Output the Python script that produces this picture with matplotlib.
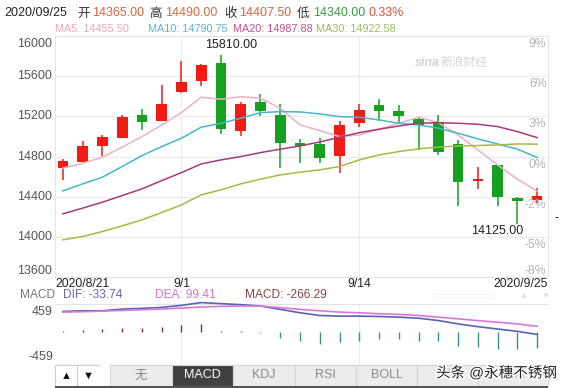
import numpy as np
import matplotlib
matplotlib.use('Agg')
from matplotlib import pyplot as plt
from matplotlib import patheffects
from matplotlib.patches import Rectangle
import matplotlib.transforms as mtransforms

plt.rcParams['font.family'] = ['Liberation Sans', 'Noto Sans CJK SC', 'DejaVu Sans']

# Daily K-line, 2020/8/24 .. 2020/9/25 (visible candles)
dates = ['8/24', '8/25', '8/26', '8/27', '8/28', '8/31', '9/1', '9/2', '9/3', '9/4',
         '9/7', '9/8', '9/9', '9/10', '9/11', '9/14', '9/15', '9/16', '9/17', '9/18',
         '9/21', '9/22', '9/23', '9/24', '9/25']
opens = [14684, 14749, 14908, 14988, 15211, 15157, 15446, 15555, 15734, 15058,
         15343, 15214, 14933, 14925, 14809, 15137, 15313, 15254, 15171, 15131,
         14925, 14554, 14716, 14388, 14365]
closes = [14759, 14905, 14995, 15194, 15147, 15323, 15542, 15714, 15078, 15323,
          15254, 14938, 14906, 14789, 15114, 15264, 15254, 15207, 15114, 14849,
          14550, 14577, 14401, 14360, 14407.5]
highs = [14773, 14955, 15018, 15211, 15271, 15512, 15754, 15726, 15810, 15340,
         15420, 15320, 14972, 14982, 15154, 15320, 15370, 15313, 15181, 15214,
         14965, 14693, 14720, 14401, 14490]
lows = [14567, 14745, 14809, 14985, 15065, 15150, 15430, 15502, 15022, 15008,
        15204, 14684, 14739, 14739, 14640, 15092, 15157, 15121, 14866, 14816,
        14308, 14478, 14311, 14125, 14340]

ma5 = [14684, 14733, 14793, 14893, 14998, 15114, 15237, 15390, 15370, 15396,
       15380, 15281, 15114, 15058, 14998, 15015, 15072, 15131, 15191, 15137,
       15015, 14866, 14716, 14574, 14455.5]
ma10 = [14458, 14527, 14594, 14700, 14809, 14899, 14982, 15092, 15131, 15181,
        15237, 15247, 15244, 15224, 15197, 15191, 15164, 15131, 15114, 15082,
        15032, 14975, 14925, 14873, 14790.75]
ma20 = [14229, 14286, 14345, 14411, 14478, 14560, 14640, 14726, 14766, 14799,
        14839, 14873, 14905, 14945, 14992, 15038, 15072, 15104, 15131, 15137,
        15131, 15121, 15098, 15048, 14987.88]
ma30 = [13970, 14003, 14053, 14109, 14169, 14242, 14318, 14418, 14468, 14527,
        14574, 14617, 14644, 14667, 14700, 14766, 14816, 14849, 14876, 14893,
        14905, 14909, 14915, 14925, 14922.58]

dif = [347, 358, 358, 386, 398, 414, 448, 493, 476, 459, 437, 381, 325, 280, 269,
       269, 263, 252, 235, 196, 140, 95, 56, 17, -33.74]
dea = [336, 342, 353, 364, 375, 386, 403, 420, 431, 437, 437, 409, 381, 358, 336,
       325, 308, 297, 280, 252, 224, 196, 168, 140, 99.41]
macd = [20, 35, 50, 75, 75, 90, 115, 135, 25, 15, -5, -100, -140, -185, -165,
        -140, -115, -115, -140, -150, -225, -240, -275, -275, -266.29]

price_ticks = [16000, 15600, 15200, 14800, 14400, 14000, 13600]
pct_labels = ['9%', '6%', '3%', '0%', '-2%', '-5%', '-8%']
xlabel_pos = [7, 16]
xlabel_txt = ['9/1', '9/14']

W, H = 561, 388
fig = plt.figure(figsize=(W / 100, H / 100), dpi=100)


def px_axes(l, t, r, b):
    return fig.add_axes([l / W, 1 - b / H, (r - l) / W, (b - t) / H])


x = np.arange(1, len(dates) + 1)
o = np.array(opens)
c = np.array(closes)
up = c >= o
col = np.where(up, '#ee1c14', '#15a020')
xlim = (0.6, 25.55)

# ---- price panel
ax = px_axes(55, 36, 548, 277)
ax.set_xlim(*xlim)
ax.set_ylim(13600, 16000)
ax.set_xticks([])
ax.set_yticks([])
for s in ax.spines.values():
    s.set_color('#e4e4e4')
for v in price_ticks[1:-1]:
    ax.axhline(v, color='#ececec', lw=0.9, zorder=0)
for p in xlabel_pos:
    ax.axvline(p, color='#ececec', lw=0.9, zorder=0)

ax.vlines(x, lows, highs, colors=col, lw=1.1, zorder=2)
ax.bar(x, np.maximum(np.abs(c - o), 12), bottom=np.minimum(o, c), width=0.54,
       color=col, zorder=3)
ax.plot(x, ma5, color='#eab2c6', lw=1.1, zorder=4)
ax.plot(x, ma10, color='#45b7c9', lw=1.1, zorder=4)
ax.plot(x, ma20, color='#a8397a', lw=1.1, zorder=4)
ax.plot(x, ma30, color='#a9b842', lw=1.1, zorder=4)

ax.text(9.5, 15850, '15810.00', ha='center', va='bottom', fontsize=9, color='#222')
ax.text(24.3, 14115, '14125.00', ha='right', va='top', fontsize=9, color='#222')

ty = mtransforms.blended_transform_factory(ax.transAxes, ax.transData)
for v, lab in zip(price_ticks, pct_labels):
    va = 'top' if v == 16000 else ('bottom' if v == 13600 else 'center')
    ax.text(-0.006, v - (15 if v == 16000 else 0), str(v), transform=ty, ha='right',
            va=va, fontsize=9, color='#555')
    ax.text(0.997, v - (20 if v != 13600 else 0), lab, transform=ty, ha='right',
            va='top' if v != 13600 else 'bottom', fontsize=8.8, color='#b4b4b4')

tx = mtransforms.blended_transform_factory(ax.transData, ax.transAxes)
ax.text(0.0, -0.03, '2020/8/21', transform=ax.transAxes, ha='left', va='center',
        fontsize=8.8, color='#222')
ax.text(1.0, -0.03, '2020/9/25', transform=ax.transAxes, ha='right', va='center',
        fontsize=8.8, color='#222')
for p, t in zip(xlabel_pos, xlabel_txt):
    ax.text(p, -0.03, t, transform=tx, ha='center', va='center', fontsize=8.8, color='#222')

# ---- MACD panel
am = px_axes(55, 304, 548, 365)
am.set_xlim(*xlim)
am.set_ylim(-540, 470)
am.set_xticks([])
am.set_yticks([])
for k, s in am.spines.items():
    s.set_visible(k == 'top')
    s.set_color('#e4e4e4')
for p in xlabel_pos:
    am.axvline(p, color='#ececec', lw=0.9, zorder=0)
mcol = ['#8c2f2f' if v >= 0 else '#2f9484' for v in macd]
am.vlines(x, 0, macd, colors=mcol, lw=1.0, zorder=2)
am.plot(x, dif, color='#5a62b6', lw=1.2, zorder=3, clip_on=False)
am.plot(x, dea, color='#d977d9', lw=1.2, zorder=3, clip_on=False)

# ---- overlay in pixel coordinates
ov = fig.add_axes([0, 0, 1, 1])
ov.set_xlim(0, W)
ov.set_ylim(H, 0)
ov.axis('off')
ov.patch.set_alpha(0)

hy = 13.5
for xx, t, cc in [(4, '2020/09/25', '#222'), (77, '开', '#333'), (92, '14365.00', '#e0603c'),
                  (149, '高', '#333'), (165, '14490.00', '#e0683a'), (224, '收', '#333'),
                  (239, '14407.50', '#e0603c'), (297, '低', '#333'),
                  (313, '14340.00', '#3c9a3c'), (369, '0.33%', '#e0503a')]:
    ov.text(xx, hy, t, ha='left', va='center', fontsize=9, color=cc)
for xx, t, cc in [(55, 'MA5: 14455.50', '#eaa6c0'), (148, 'MA10: 14790.75', '#5ab4d0'),
                  (233, 'MA20: 14987.88', '#c0508e'), (316.5, 'MA30: 14922.58', '#9cbb5c')]:
    ov.text(xx, 28.8, t, ha='left', va='center', fontsize=7.8, color=cc)

ov.text(415, 63, 'sina', ha='left', va='center', fontsize=9, fontstyle='italic',
        fontweight='bold', color='#d4d4d4')
ov.text(441, 63, '新浪财经', ha='left', va='center', fontsize=8.5, color='#d4d4d4')

for xx, t, cc in [(20, 'MACD', '#777'), (63, 'DIF: -33.74', '#6464bb'),
                  (155, 'DEA: 99.41', '#cc77cc'), (245, 'MACD: -266.29', '#884444')]:
    ov.text(xx, 295.5, t, ha='left', va='center', fontsize=8.6, color=cc)
ov.text(433, 296, ':' * 30, ha='left', va='center', fontsize=5, color='#d6d6d6')
ov.text(523, 296, '▲', ha='center', va='center', fontsize=6, color='#dcdcdc')
ov.text(545, 296, '▼', ha='center', va='center', fontsize=6, color='#dcdcdc')
ov.text(53, 312, '459', ha='right', va='center', fontsize=9, color='#555')
ov.text(53, 357, '-459', ha='right', va='center', fontsize=9, color='#555')
ov.text(557, 218, '-', ha='center', va='center', fontsize=9, color='#111')

# tab bar
ov.add_patch(Rectangle((55, 365), 493, 21, facecolor='#f2f2f2', edgecolor='#d6d6d6', lw=0.8))
ov.add_patch(Rectangle((55, 365), 22, 21, facecolor='white', edgecolor='#cfcfcf', lw=0.8))
ov.add_patch(Rectangle((77, 365), 23, 21, facecolor='white', edgecolor='#cfcfcf', lw=0.8))
ov.add_patch(Rectangle((100, 365), 10, 21, facecolor='white', edgecolor='none'))
ov.text(66, 376, '▲', ha='center', va='center', fontsize=8, color='#111')
ov.text(88.5, 376, '▼', ha='center', va='center', fontsize=8, color='#111')
tabs = ['无', 'MACD', 'KDJ', 'RSI', 'BOLL', 'WR', 'DMI']
starts = [110, 172, 233, 295, 356, 417, 478, 548]
for i, t in enumerate(tabs):
    sel = t == 'MACD'
    ov.add_patch(Rectangle((starts[i], 365), starts[i + 1] - starts[i], 21,
                           facecolor='#404040' if sel else '#ececec',
                           edgecolor='#d6d6d6', lw=0.8))
    ov.text((starts[i] + starts[i + 1]) / 2, 375.5, t, ha='center', va='center',
            fontsize=9, color='white' if sel else ('#8a8a8a' if i < 5 else '#c4c4c4'))
ov.add_patch(Rectangle((55, 386), 493, 2, facecolor='#555', edgecolor='none'))

ov.text(436, 373, '头条 @永穗不锈钢', ha='left', va='center', fontsize=10.5, color='#222',
        path_effects=[patheffects.withStroke(linewidth=2.2, foreground='white')])

fig.savefig('out.png', dpi=100)
